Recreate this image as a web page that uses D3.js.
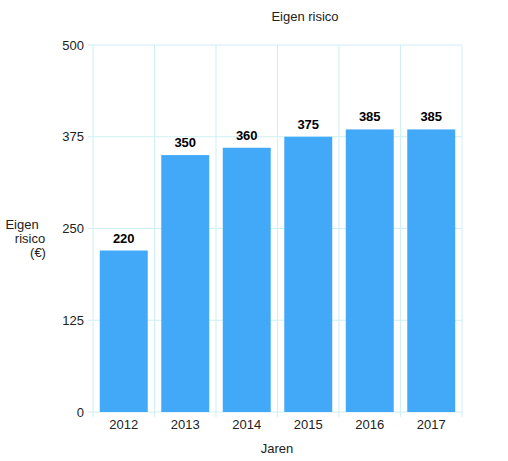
<!DOCTYPE html><html><head><meta charset="utf-8"><script src="https://cdn.jsdelivr.net/npm/d3@7"></script>
<style>body{margin:0;background:#fff}text{font-family:"Liberation Sans",Arial,sans-serif}</style></head><body><svg id="c" width="508" height="461"></svg><script>
const years=["2012","2013","2014","2015","2016","2017"];
const values=[220,350,360,375,385,385];
const yTicks=[0,125,250,375,500];
const svg=d3.select("#c");
const L=93,R=462,T=45,B=412;
const x=d3.scaleBand().domain(years).range([L,R]).paddingInner(0.22).paddingOuter(0.11);
const y=d3.scaleLinear().domain([0,500]).range([B,T]);
const grid="#cdeff5";
const bounds=years.map((d,i)=>L+i*(R-L)/years.length).concat([R]);
svg.selectAll(".vg").data(bounds).join("line").attr("x1",d=>d).attr("x2",d=>d).attr("y1",T).attr("y2",B+5).attr("stroke",grid);
svg.selectAll(".hg").data(yTicks).join("line").attr("x1",L-5).attr("x2",R).attr("y1",d=>y(d)).attr("y2",d=>y(d)).attr("stroke",grid);
svg.selectAll(".yt").data(yTicks).join("text").attr("x",L-9).attr("y",d=>y(d)+4.5).attr("text-anchor","end").attr("font-size",13).attr("fill","#222").text(d=>d);
svg.selectAll(".bar").data(values).join("rect").attr("x",(d,i)=>x(years[i])).attr("width",x.bandwidth()).attr("y",d=>y(d)).attr("height",d=>B-y(d)).attr("fill","#42a8f8");
svg.selectAll(".vl").data(values).join("text").attr("x",(d,i)=>x(years[i])+x.bandwidth()/2).attr("y",d=>y(d)-8).attr("text-anchor","middle").attr("font-size",13).attr("font-weight","bold").attr("fill","#000").text(d=>d);
svg.selectAll(".xt").data(years).join("text").attr("x",d=>x(d)+x.bandwidth()/2).attr("y",429).attr("text-anchor","middle").attr("font-size",13).attr("fill","#222").text(d=>d);
svg.append("text").attr("x",305).attr("y",21).attr("text-anchor","middle").attr("font-size",13).attr("fill","#222").text("Eigen risico");
svg.append("text").attr("x",277).attr("y",453).attr("text-anchor","middle").attr("font-size",13).attr("fill","#222").text("Jaren");
const yl=svg.append("text").attr("text-anchor","middle").attr("font-size",13).attr("fill","#222");
["Eigen","risico","(€)"].forEach((s,i)=>yl.append("tspan").attr("x",i==0?22:i==1?30:38).attr("y",229+i*14).text(s));
</script></body></html>
